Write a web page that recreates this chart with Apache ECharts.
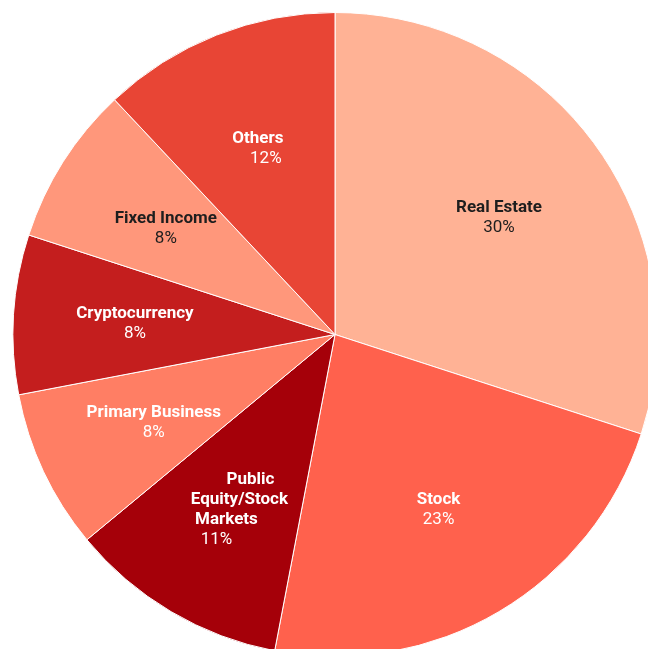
<!DOCTYPE html>
<html>
<head>
<meta charset="utf-8">
<script src="https://cdn.jsdelivr.net/npm/echarts@6/dist/echarts.min.js"></script>
<style>
  html, body { margin: 0; padding: 0; background: #ffffff; }
  #chart { width: 648px; height: 649px; }
</style>
</head>
<body>
<div id="chart"></div>
<script>
// Asset allocation shares, clockwise from 12 o'clock
const categories = ['Real Estate', 'Stock', 'Public\nEquity/Stock\nMarkets', 'Primary Business', 'Cryptocurrency', 'Fixed Income', 'Others'];
const shares = [30, 23, 11, 8, 8, 8, 12];
const sliceColors = ['#FFB295', '#FF614D', '#A50009', '#FF7E64', '#C41E1E', '#FF977B', '#E84535'];
const labelColors = ['#1e1e1e', '#ffffff', '#ffffff', '#ffffff', '#ffffff', '#1e1e1e', '#ffffff'];

// horizontal nudges (px) for individual label lines: name lines first, then the percent line
const lineShifts = {
  'Public\nEquity/Stock\nMarkets': [17, 6, -7, -17],
  'Others': [-4, 4]
};

const center = [335, 334.5];
const outerR = 322;

function shiftPad(s) {
  return s >= 0 ? [0, 0, 0, 2 * s] : [0, 2 * -s, 0, 0];
}

const pieData = categories.map((name, i) => ({
  name: name,
  value: shares[i],
  itemStyle: { color: sliceColors[i] }
}));

const labelData = categories.map((name, i) => {
  const lines = name.split('\n');
  const shifts = lineShifts[name] || [];
  const rich = {};
  const parts = [];
  lines.forEach((line, k) => {
    rich['n' + k] = { fontFamily: 'Roboto', fontWeight: 'bold', fontSize: 17, lineHeight: 20, color: labelColors[i], padding: shiftPad(shifts[k] || 0) };
    parts.push('{n' + k + '|' + line + '}');
  });
  rich.p = { fontFamily: 'Roboto', fontSize: 17, lineHeight: 20, color: labelColors[i], padding: shiftPad(shifts[lines.length] || 0) };
  return {
    name: name,
    value: shares[i],
    label: {
      rich: rich,
      formatter: p => parts.join('\n') + '\n{p|' + Math.round(p.percent) + '%}'
    }
  };
});

const chart = echarts.init(document.getElementById('chart'), null, { renderer: 'canvas' });
chart.setOption({
  animation: false,
  backgroundColor: '#ffffff',
  series: [
    {
      type: 'pie',
      center: center,
      radius: [0, outerR],
      startAngle: 90,
      clockwise: true,
      silent: true,
      label: { show: false },
      labelLine: { show: false },
      itemStyle: { borderColor: '#ffffff', borderWidth: 1 },
      data: pieData
    },
    {
      // transparent ring used only to place the labels at ~0.62 of the radius
      type: 'pie',
      center: center,
      radius: [75, outerR],
      startAngle: 90,
      clockwise: true,
      silent: true,
      itemStyle: { color: 'rgba(0,0,0,0)', borderWidth: 0 },
      labelLine: { show: false },
      label: { show: true, position: 'inside', align: 'center', offset: [1, 2] },
      data: labelData
    }
  ]
});
</script>
</body>
</html>
